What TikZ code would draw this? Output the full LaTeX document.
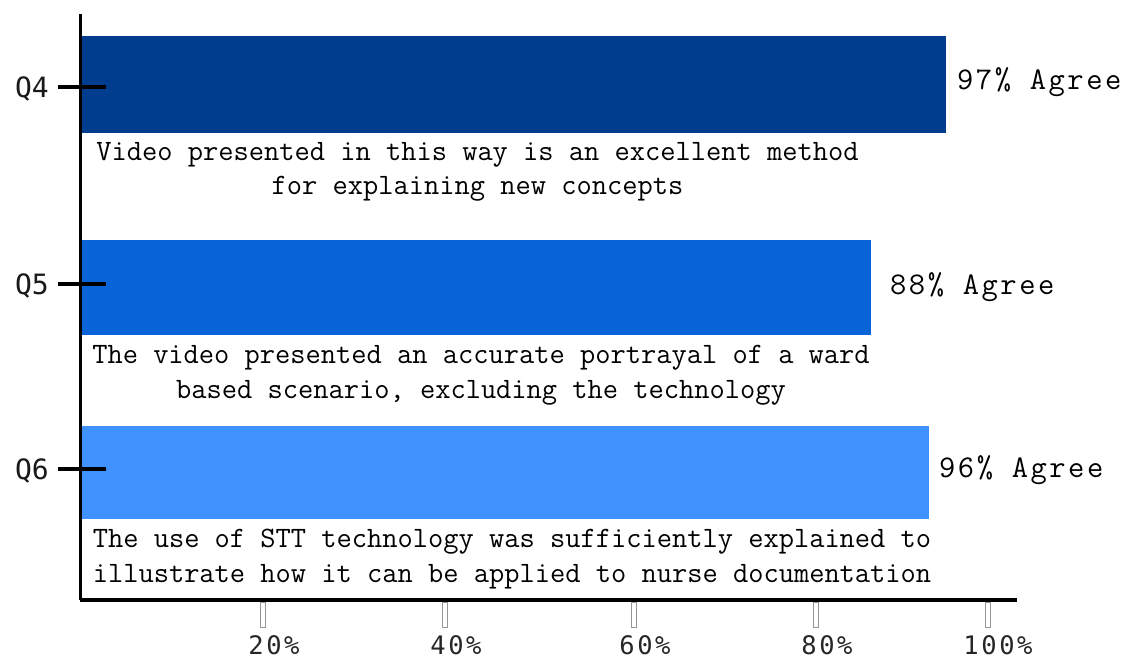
\documentclass[tikz,border=0pt]{standalone}
\usepackage{fontspec}
\newfontfamily\cour{Latin Modern Mono}
\newfontfamily\courwide{Latin Modern Mono}[LetterSpace=8]
\newfontfamily\dsm{DejaVu Sans Mono}
\newfontfamily\dsmwide{DejaVu Sans Mono}[LetterSpace=10]
\definecolor{bfour}{RGB}{0,61,143}
\definecolor{bfive}{RGB}{8,100,215}
\definecolor{bsix}{RGB}{64,146,255}
\definecolor{tickgray}{RGB}{150,150,150}
\begin{document}
\begin{tikzpicture}[x=1pt,y=-1pt,
  bar/.style={draw=none,inner sep=0,anchor=north west},
  desc/.style={inner sep=0,align=center,text=black,font=\cour\fontsize{29.6}{34.5}\selectfont},
  pct/.style={inner sep=0,anchor=west,text=black,font=\courwide\fontsize{31.6}{36}\selectfont},
  qlab/.style={inner sep=0,text=black!90,font=\dsm\fontsize{28}{30}\selectfont},
  xlab/.style={inner sep=0,text=black!85,font=\dsmwide\fontsize{25.5}{28}\selectfont},
  ytick/.style={line width=4pt},
  xtick/.style={draw=tickgray,line width=1pt,fill=white,minimum width=5,minimum height=25,inner sep=0,anchor=north}]
\useasboundingbox (0,0) rectangle (1127,660);
% bars
\node[bar,fill=bfour,minimum width=864,minimum height=97] (b4) at (82,36) {};
\node[bar,fill=bfive,minimum width=789,minimum height=95] (b5) at (82,240) {};
\node[bar,fill=bsix,minimum width=847,minimum height=93] (b6) at (82,426) {};
% axes
\coordinate (top) at (80,14);
\coordinate (origin) at (80,600);
\coordinate (xend) at (1017,600);
\draw[line width=3pt] (top) -- (origin);
\draw[line width=4pt] (origin) -- (xend);
% y ticks and labels
\coordinate (t4a) at (58,87); \coordinate (t4b) at (106,87);
\coordinate (t5a) at (58,284); \coordinate (t5b) at (106,284);
\coordinate (t6a) at (58,469); \coordinate (t6b) at (106,469);
\draw[ytick] (t4a) -- (t4b);
\draw[ytick] (t5a) -- (t5b);
\draw[ytick] (t6a) -- (t6b);
\node[qlab] (q4) at (32,89) {Q4};
\node[qlab] (q5) at (32,286) {Q5};
\node[qlab] (q6) at (32,471) {Q6};
% percentages
\node[pct] (p4) at (957,82) {97\% Agree};
\node[pct] (p5) at (890,287) {88\% Agree};
\node[pct] (p6) at (939,470) {96\% Agree};
% descriptions
\node[desc] (d4) at (477.5,172) {Video presented in this way is an excellent method\\for explaining new concepts};
\node[desc] (d5) at (481,375.5) {The video presented an accurate portrayal of a ward\\based scenario, excluding the technology};
\node[desc] (d6) at (512,559) {The use of STT technology was sufficiently explained to\\illustrate how it can be applied to nurse documentation};
% x ticks
\node[xtick] (x20) at (263,602) {};
\node[xtick] (x40) at (445,602) {};
\node[xtick] (x60) at (634,602) {};
\node[xtick] (x80) at (816,602) {};
\node[xtick] (x100) at (988,602) {};
\node[xlab] (l20) at (274,645) {20\%};
\node[xlab] (l40) at (456,645) {40\%};
\node[xlab] (l60) at (645,645) {60\%};
\node[xlab] (l80) at (827,645) {80\%};
\node[xlab] (l100) at (998,645) {100\%};
\end{tikzpicture}
\end{document}
